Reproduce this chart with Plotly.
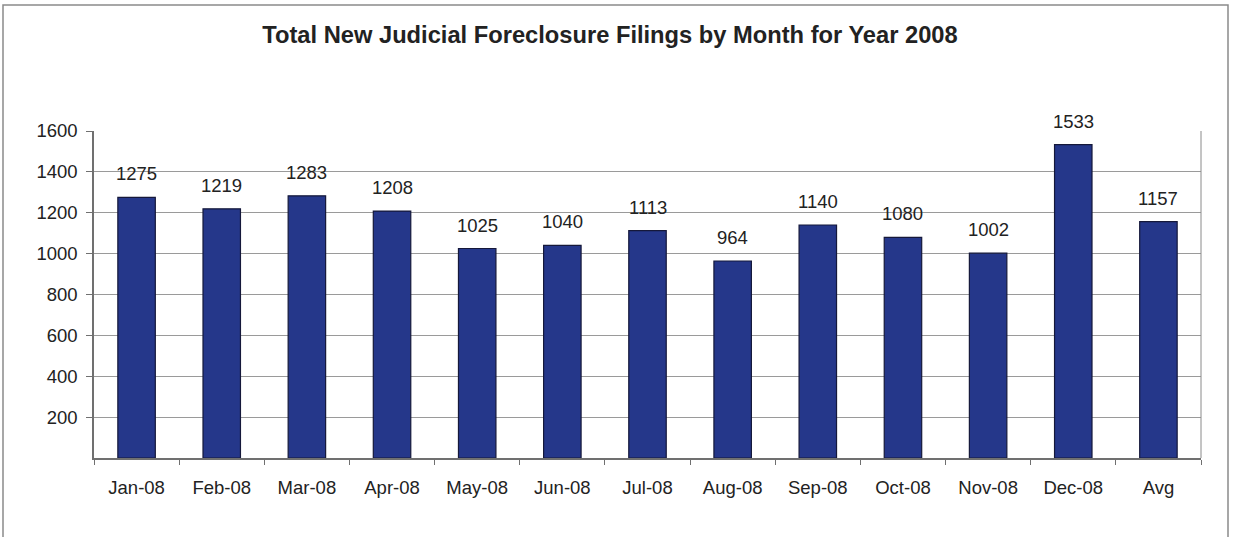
import plotly.graph_objects as go

categories = ["Jan-08", "Feb-08", "Mar-08", "Apr-08", "May-08", "Jun-08", "Jul-08",
              "Aug-08", "Sep-08", "Oct-08", "Nov-08", "Dec-08", "Avg"]
filings = [1275, 1219, 1283, 1208, 1025, 1040, 1113, 964, 1140, 1080, 1002, 1533, 1157]
y_ticks = [200, 400, 600, 800, 1000, 1200, 1400, 1600]

W, H = 1233, 537
L, R, T, B = 94, 32, 131, 79
pw, ph = W - L - R, H - T - B
FONT = "Arial, Liberation Sans, sans-serif"

def px_x(p):
    return (p - L) / pw

def px_y(p):
    return (H - B - p) / ph

fig = go.Figure()
fig.add_trace(go.Bar(
    x=categories, y=filings,
    marker=dict(color="#25378A", line=dict(color="#15183A", width=1.2)),
    width=0.44,
    hoverinfo="x+y",
))

annotations = []
for c, v in zip(categories, filings):
    annotations.append(dict(
        x=c, y=v, text=str(v), showarrow=False, xref="x", yref="y",
        yanchor="bottom", yshift=11,
        font=dict(family=FONT, size=18.5, color="#222222"),
    ))

fig.update_layout(
    width=W, height=H,
    margin=dict(l=L, r=R, t=T, b=B),
    paper_bgcolor="white", plot_bgcolor="white",
    showlegend=False,
    title=dict(
        text="<b>Total New Judicial Foreclosure Filings by Month for Year 2008</b>",
        x=610 / W, xref="container", xanchor="center",
        y=1 - 35 / H, yref="container", yanchor="middle",
        font=dict(family=FONT, size=23.7, color="#222222"),
    ),
    font=dict(family=FONT, size=18.5, color="#222222"),
    xaxis=dict(
        type="category", showgrid=False,
        showline=True, linecolor="#707070", linewidth=1.5,
        ticks="outside", ticklen=5, tickcolor="#707070", tickson="boundaries",
        tickfont=dict(size=18.5, color="#222222"),
        ticklabelstandoff=12,
    ),
    yaxis=dict(
        range=[0, 1600], tickvals=y_ticks,
        showgrid=True, gridcolor="#9a9a9a", gridwidth=1,
        showline=True, linecolor="#707070", linewidth=1.5,
        ticks="outside", ticklen=6, tickcolor="#707070",
        tickfont=dict(size=18.5, color="#222222"),
        ticklabelstandoff=5,
        zeroline=False,
    ),
    annotations=annotations,
    shapes=[
        dict(type="line", xref="paper", yref="paper", x0=1, x1=1, y0=0, y1=1,
             line=dict(color="#8a8a8a", width=1)),
        dict(type="rect", xref="paper", yref="paper",
             x0=px_x(3), x1=px_x(1228), y0=px_y(560), y1=px_y(5),
             line=dict(color="#8a8a8a", width=1.5), layer="below"),
    ],
)

fig.write_html("out.html", config={"displayModeBar": False},
               post_script="document.body.style.margin='0';")
